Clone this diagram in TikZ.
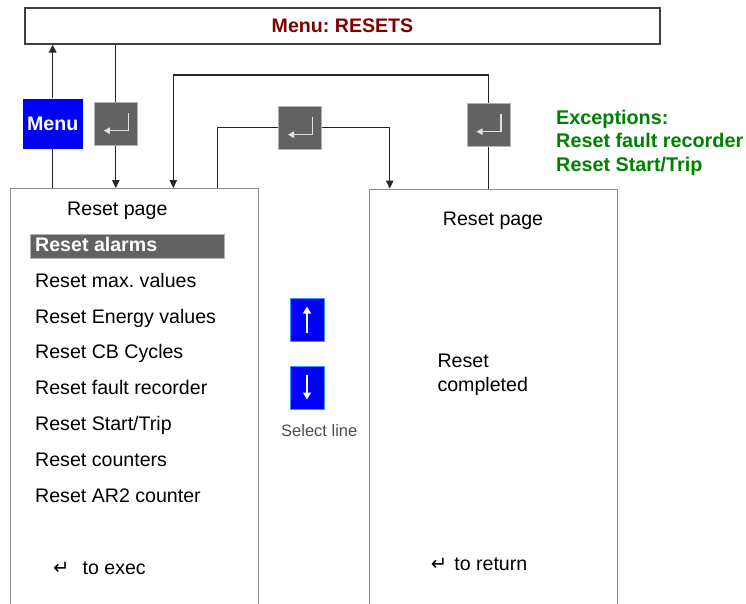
\documentclass[tikz,border=0pt]{standalone}
\usepackage{fontspec}
\setmainfont{Liberation Sans}
\newfontfamily\symfont{DejaVu Sans}
\usetikzlibrary{positioning,arrows.meta}
\frenchspacing

\definecolor{titlered}{RGB}{128,0,0}
\definecolor{exgreen}{RGB}{0,128,0}
\definecolor{keygray}{RGB}{98,98,98}
\definecolor{keyblue}{RGB}{0,0,255}
\definecolor{keyrim}{RGB}{60,150,255}

\begin{document}
\begin{tikzpicture}[x=1pt,y=-1pt,
    font=\fontsize{19.6}{23.5}\selectfont,
    conn/.style={draw=black!85, line width=1.1pt},
    arrowed/.style={-{Triangle[length=8pt,width=7.5pt]}},
    page/.style={draw=black!45, line width=1.3pt, anchor=north west,
      minimum width=248pt, minimum height=440pt, inner sep=0pt},
    titlebox/.style={draw=black!75, line width=1.3pt, minimum width=635pt,
      minimum height=36pt, text=titlered, font=\fontsize{19.6}{23.5}\selectfont\bfseries},
    menukey/.style={fill=keyblue, text=white, minimum width=60pt, minimum height=50pt,
      inner sep=0pt, font=\fontsize{19.6}{23.5}\selectfont\bfseries},
    enterkey/.style={fill=keygray, draw=black!30, line width=1pt,
      minimum width=43pt, minimum height=43pt,
      path picture={\draw[white!88!black, line width=1.3pt,
          -{Triangle[length=6pt,width=6.5pt]}]
        ([xshift=12.5pt,yshift=10.5pt]path picture bounding box.center)
        |- ([xshift=-12pt,yshift=-7pt]path picture bounding box.center);}},
    arrowkey/.style={fill=keyblue, draw=keyrim, line width=1pt,
      minimum width=34pt, minimum height=43pt},
    keyarrow/.style={white, line width=1.4pt, -{Triangle[length=7pt,width=8pt]}},
    selbar/.style={fill=keygray, draw=black!30, line width=1pt, anchor=north west,
      minimum width=194pt, minimum height=24pt, inner sep=0pt},
    item/.style={anchor=base west, inner sep=0pt}]

  % --- frame of the picture ---
  \useasboundingbox (0,0) rectangle (746,603);
  \clip (0,0) rectangle (746,603);

  % --- list layout ---
  \def\xA{35}     % left edge of the list texts
  \def\yA{251.5}  % baseline of the selected line
  \def\dy{35.8}   % line pitch

  % --- menu bar and the two pages ---
  \node[titlebox] (title) at (342.5,26) {Menu: RESETS};
  \node[page] (pageL) at (10,188) {};
  \node[page] (pageR) at (368.5,188.5) {};

  % --- keys ---
  \node[menukey] (menu) at (52.7,123.5) {Menu};
  \node[enterkey] (ent1) at (115.8,123.7) {};
  \node[enterkey] (ent2) at (300,127.7) {};
  \node[enterkey] (ent3) at (488.5,124.7) {};
  \node[arrowkey] (up) at (307,319.5) {};
  \node[arrowkey] (down) at (307,387.5) {};
  \draw[keyarrow] ([yshift=-13pt]up.center) -- ([yshift=13pt]up.center);
  \draw[keyarrow] ([yshift=13pt]down.center) -- ([yshift=-12pt]down.center);
  \node[item, text=black!70, font=\fontsize{16.5}{20}\selectfont]
    (sel line) at (281,436) {Select line};

  % --- exceptions ---
  \node[anchor=north west, inner sep=0pt, align=left, text=exgreen,
    font=\fontsize{19.8}{23.4}\selectfont\bfseries] (except) at (556,110)
    {Exceptions:\\Reset fault recorder\\Reset Start/Trip};

  % --- connectors ---
  \coordinate (lout) at (217.7,188);
  \coordinate (lin) at (173.3,188);
  \coordinate (rin) at (389.7,188.5);
  \coordinate (back) at (173.3,75);
  \draw[conn] (pageL.north -| menu.south) -- (menu.south);
  \draw[conn,arrowed] (menu.north) -- (menu.north |- title.south);
  \draw[conn] (title.south -| ent1.north) -- (ent1.north);
  \draw[conn,arrowed] (ent1.south) -- (ent1.south |- pageL.north);
  \draw[conn] (lout) |- (ent2.west);
  \draw[conn,arrowed] (ent2.east) -| (rin);
  \draw[conn] (pageR.north -| ent3.south) -- (ent3.south);
  \draw[conn,arrowed] (ent3.north) |- (back) -- (lin);

  % --- left page ---
  \node[item] (headL) at (67,215.7) {Reset page};
  \node[selbar] (selbar) at (30,234.3) {};
  \node[item, text=white, font=\fontsize{19.6}{23.5}\selectfont\bfseries]
    (item0) at (\xA,\yA) {Reset alarms};
  \foreach \txt [count=\k] in {Reset max. values, Reset Energy values,
      Reset CB Cycles, Reset fault recorder, Reset Start/Trip,
      Reset counters, Reset AR2 counter} {
    \node[item] (item\k) at (\xA,\yA+\k*\dy) {\txt};
  }
  \node[item] (exec) at (53,574.3) {{\symfont ↵}\hspace{13pt}to exec};

  % --- right page ---
  \node[item] (headR) at (442.7,225) {Reset page};
  \node[anchor=north west, inner sep=0pt, align=left] (done) at (437.3,354.3)
    {Reset\\completed};
  \node[item] (ret) at (430.7,570.7) {{\symfont ↵}\hspace{7pt}to return};
\end{tikzpicture}
\end{document}
